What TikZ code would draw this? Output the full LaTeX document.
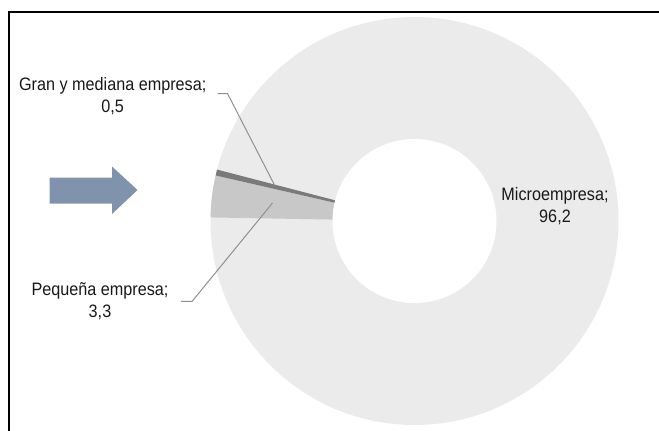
\documentclass[tikz,border=0pt]{standalone}
\usepackage{fontspec}
\setmainfont{Liberation Sans}[FakeStretch=0.9]
\definecolor{microgray}{HTML}{EBEBEB}
\definecolor{pequegray}{HTML}{C8C8C8}
\definecolor{grangray}{HTML}{7A7A7A}
\definecolor{arrowblue}{HTML}{7F93AD}
\definecolor{leadergray}{HTML}{909090}
\tikzset{
  chartlabel/.style={align=center, inner sep=0pt, text=black!90, font=\fontsize{18}{22}\selectfont},
  leader/.style={draw=leadergray, line width=1pt}
}

\begin{document}
\begin{tikzpicture}[x=1pt, y=-1pt]
\useasboundingbox (0,0) rectangle (659,431);

% frame
\draw[line width=2pt] (9,431) -- (9,12) -- (659,12);

% donut
\coordinate (c) at (414.5,221);
\fill[microgray] (c) circle (204);
\fill[pequegray] (c) -- ++(181:204) arc[start angle=181, end angle=192.9, radius=204] -- cycle;
\fill[grangray] (c) -- ++(192.9:204) arc[start angle=192.9, end angle=194.6, radius=204] -- cycle;
\fill[white] (c) circle (82);

% arrow
\fill[arrowblue] (49.5,177.5) -- (112,177.5) -- (112,166.5) -- (137.5,190)
  -- (112,214) -- (112,203.5) -- (49.5,203.5) -- cycle;

% labels
\node[chartlabel] (gran) at (112.7,96.6) {Gran y mediana empresa;\\0,5};
\node[chartlabel] (pequena) at (100,301.3) {Pequeña empresa;\\3,3};
\node[chartlabel] (micro) at (555,206.1) {Microempresa;\\96,2};

% leaders
\coordinate (granend) at (275,186);
\coordinate (pequenaend) at (272.5,203);
\draw[leader] ([xshift=11pt,yshift=3pt]gran.east) -- ++(10,0) -- (granend);
\draw[leader] ([xshift=12.5pt]pequena.east) -- ++(11,0) -- (pequenaend);

\end{tikzpicture}
\end{document}
